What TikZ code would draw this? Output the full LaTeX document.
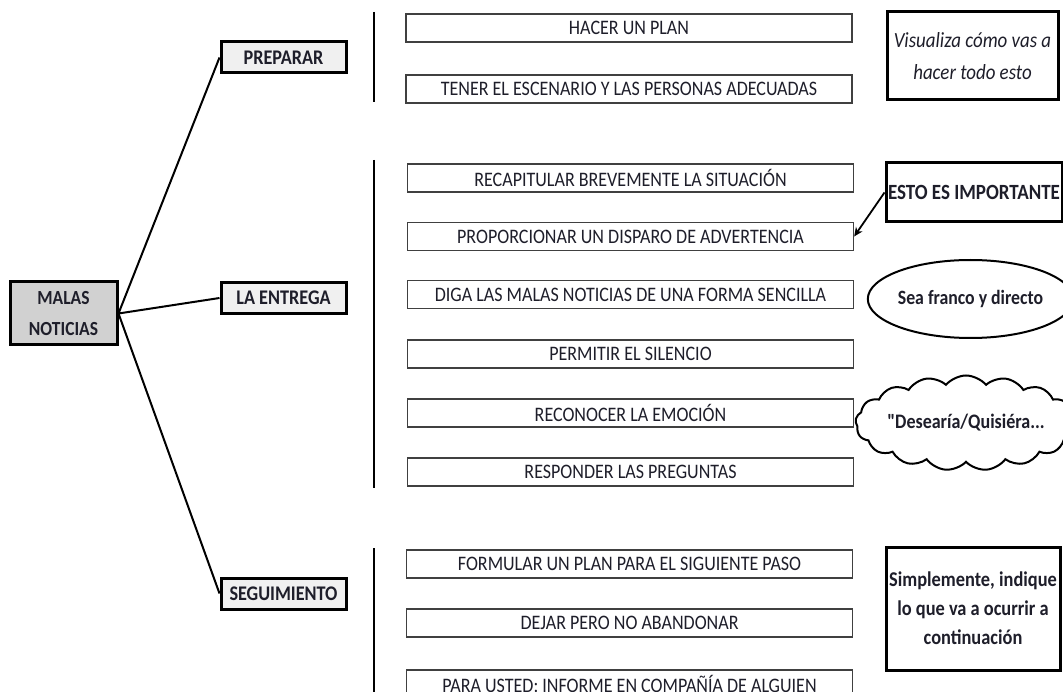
\documentclass[tikz,border=0pt]{standalone}
\usepackage{fontspec}
\setmainfont{Carlito}[Ligatures=TeXOff, FakeStretch=0.875]
\usetikzlibrary{shapes.geometric,shapes.symbols,arrows.meta}
\definecolor{ink}{HTML}{1E1E2A}
\tikzset{
  mainbox/.style={draw=black, line width=3pt, fill=black!18, font=\fontsize{20}{31}\selectfont\bfseries, text=ink, align=center, inner sep=0pt},
  catbox/.style={draw=black, line width=3pt, fill=black!6, font=\fontsize{20.8}{20}\selectfont\bfseries, text=ink, inner sep=0pt, minimum width=125pt, minimum height=31pt},
  itembox/.style={draw=black!75, line width=1.3pt, fill=white, font=\fontsize{20.6}{22}\selectfont, text=ink, inner sep=0pt, minimum width=446pt, minimum height=28pt},
  notebox/.style={draw=black, line width=3pt, fill=white, font=\fontsize{21}{28}\selectfont\bfseries, text=ink, align=center, inner sep=0pt},
  bar/.style={line width=2.5pt, black},
  link/.style={line width=2pt, black},
}
\begin{document}
\begin{tikzpicture}[x=1pt,y=-1pt]
\clip (0,0) rectangle (1063,692);
\fill[white] (0,0) rectangle (1063,692);

% left nodes
\node[mainbox, minimum width=107pt, minimum height=63pt] (malas) at (63.5,313.5) {MALAS\\NOTICIAS};
\node[catbox] (prep) at (283.5,57.5) {PREPARAR};
\node[catbox] (entr) at (283.5,298) {LA ENTREGA};
\node[catbox] (segu) at (283.5,593.5) {SEGUIMIENTO};

\draw[link] (malas.east) -- (prep.west);
\draw[link] (malas.east) -- (entr.west);
\draw[link] (malas.east) -- (segu.west);

% bars
\draw[bar] (374,12) -- (374,102);
\draw[bar] (374,160) -- (374,488);
\draw[bar] (374,548) -- (374,692);

% items
\node[itembox] (i1) at (629,28) {HACER UN PLAN};
\node[itembox] (i2) at (629,89) {TENER EL ESCENARIO Y LAS PERSONAS ADECUADAS};
\node[itembox] (i3) at (630.5,178) {RECAPITULAR BREVEMENTE LA SITUACIÓN};
\node[itembox] (i4) at (630.5,236.5) {PROPORCIONAR UN DISPARO DE ADVERTENCIA};
\node[itembox] (i5) at (630.5,294.5) {DIGA LAS MALAS NOTICIAS DE UNA FORMA SENCILLA};
\node[itembox] (i6) at (630.5,354) {PERMITIR EL SILENCIO};
\node[itembox] (i7) at (630.5,413) {RECONOCER LA EMOCIÓN};
\node[itembox] (i8) at (630.5,472) {RESPONDER LAS PREGUNTAS};
\node[itembox] (i9) at (629.5,564) {FORMULAR UN PLAN PARA EL SIGUIENTE PASO};
\node[itembox] (i10) at (629.5,623) {DEJAR PERO NO ABANDONAR};
\node[itembox] (i11) at (629.5,684) {PARA USTED: INFORME EN COMPAÑÍA DE ALGUIEN};

% notes
\node[notebox, font=\fontsize{21.6}{32}\selectfont\itshape, minimum width=171pt, minimum height=88pt] (n1) at (972.5,56) {Visualiza cómo vas a\\hacer todo esto};
\node[notebox, font=\fontsize{21.7}{22}\selectfont\bfseries, minimum width=176pt, minimum height=59pt] (n2) at (974,192.5) {ESTO ES IMPORTANTE};
\node[draw=black, line width=2pt, ellipse, fill=white, font=\fontsize{20.3}{22}\selectfont\bfseries, text=ink, inner sep=0pt, minimum width=183pt, minimum height=78pt] (n3) at (970.5,299) {Sea franco y directo};
\node[draw=black, line width=2pt, cloud, cloud puffs=17, cloud puff arc=100, cloud ignores aspect, fill=white, font=\fontsize{20.6}{22}\selectfont\bfseries, text=ink, inner sep=0pt, minimum width=205pt, minimum height=95pt] (n4) at (966,423) {"Desearía/Quisiéra...};
\node[notebox, font=\fontsize{21}{29}\selectfont\bfseries, minimum width=174pt, minimum height=123pt] (n5) at (973,608.5) {Simplemente, indique\\lo que va a ocurrir a\\continuación};

\draw[line width=1.8pt, -{Stealth[length=9pt,width=8pt]}] (n2.west) -- (i4.east);
\end{tikzpicture}
\end{document}
